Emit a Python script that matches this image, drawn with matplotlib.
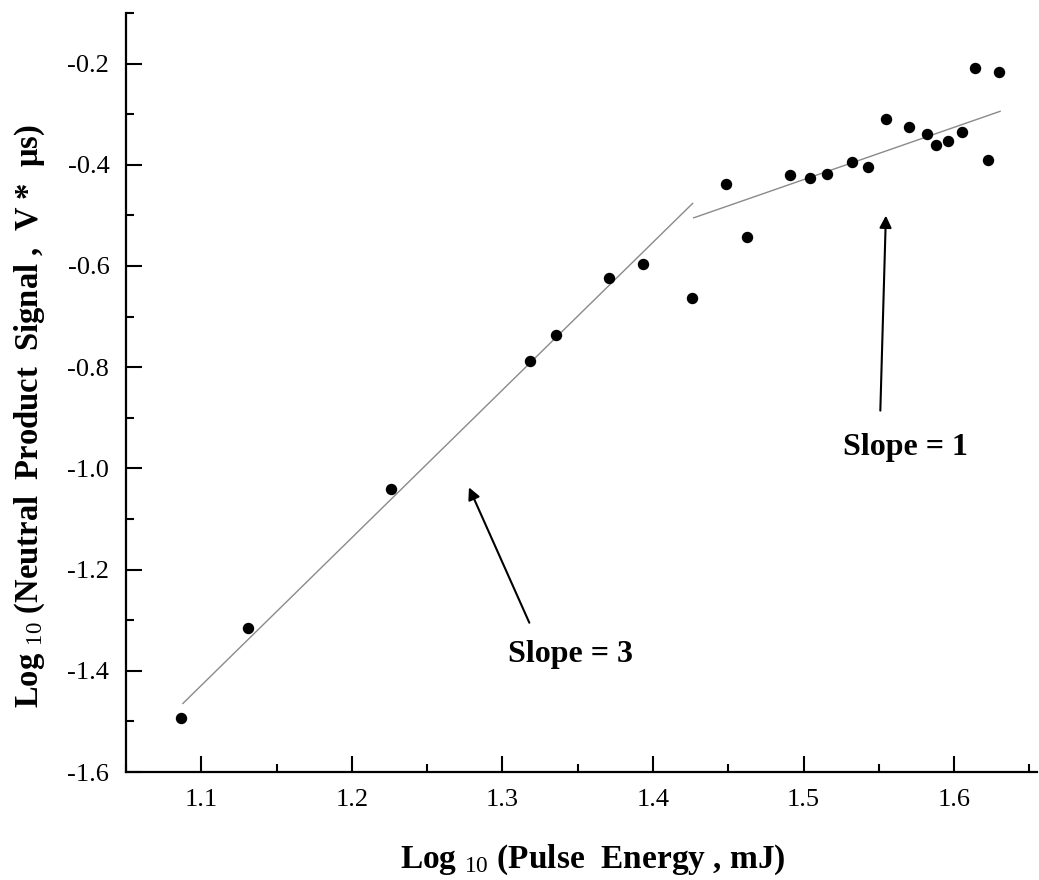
import matplotlib
matplotlib.use("Agg")
import matplotlib.pyplot as plt
from matplotlib.ticker import MultipleLocator, FormatStrFormatter

plt.rcParams['font.family'] = ['Liberation Serif', 'DejaVu Serif']
plt.rcParams['mathtext.fontset'] = 'custom'
plt.rcParams['mathtext.rm'] = 'Liberation Serif'
plt.rcParams['mathtext.it'] = 'Liberation Serif'
plt.rcParams['mathtext.bf'] = 'Liberation Serif:bold'
plt.rcParams['axes.unicode_minus'] = False

# Data (log10 pulse energy, log10 neutral product signal)
log_energy = [1.0867, 1.1312, 1.2263, 1.3181, 1.3358, 1.3710, 1.3931, 1.4261,
              1.4485, 1.4624, 1.4907, 1.5040, 1.5157, 1.5321, 1.5427, 1.5547,
              1.5699, 1.5821, 1.5881, 1.5958, 1.6055, 1.6139, 1.6224, 1.6299]
log_signal = [-1.494, -1.316, -1.040, -0.787, -0.737, -0.624, -0.596, -0.664,
              -0.437, -0.543, -0.421, -0.427, -0.419, -0.395, -0.405, -0.310,
              -0.325, -0.340, -0.361, -0.352, -0.335, -0.209, -0.390, -0.217]

# Fit lines (endpoints)
fit3_x = [1.0878, 1.4263]
fit3_y = [-1.4645, -0.4763]
fit1_x = [1.427, 1.6305]
fit1_y = [-0.5048, -0.2943]

fig = plt.figure(figsize=(10.39, 8.80), dpi=100)
ax = fig.add_axes([126/1039, (880-772)/880, (1037-126)/1039, (772-13)/880])

ax.plot(fit3_x, fit3_y, color='#8a8a8a', lw=1.0)
ax.plot(fit1_x, fit1_y, color='#8a8a8a', lw=1.0)
ax.plot(log_energy, log_signal, 'o', color='black', ms=7.2, mec='black')

ax.set_xlim(1.05, 1.655)
ax.set_ylim(-1.6, -0.1)

ax.xaxis.set_major_locator(MultipleLocator(0.1))
ax.xaxis.set_minor_locator(MultipleLocator(0.05))
ax.yaxis.set_major_locator(MultipleLocator(0.2))
ax.yaxis.set_minor_locator(MultipleLocator(0.1))
ax.xaxis.set_major_formatter(FormatStrFormatter('%.1f'))
ax.yaxis.set_major_formatter(FormatStrFormatter('%.1f'))

for s in ['top', 'right']:
    ax.spines[s].set_visible(False)
for s in ['left', 'bottom']:
    ax.spines[s].set_linewidth(1.6)

ax.tick_params(which='major', direction='in', length=11.5, width=1.5, labelsize=19, pad=12)
ax.tick_params(which='minor', direction='in', length=5.8, width=1.5)

ax.set_xlabel(r"Log $_{\mathrm{10}}$ (Pulse  Energy , mJ)", fontsize=24, fontweight='bold')
ax.set_ylabel(r"Log $_{\mathrm{10}}$ (Neutral  Product  Signal ,  V *  μs)", fontsize=23.5, fontweight='bold')
ax.xaxis.set_label_coords(0.512, -0.093)
ax.yaxis.set_label_coords(-0.087, 0.469)

ax.annotate("", xy=(1.277, -1.0325), xytext=(1.3186, -1.310),
            arrowprops=dict(arrowstyle='-|>', color='black', lw=1.5, mutation_scale=18))
ax.text(1.3451, -1.367, "Slope = 3", fontsize=23, fontweight='bold', ha='center', va='center')

ax.annotate("", xy=(1.5547, -0.4949), xytext=(1.5509, -0.8913),
            arrowprops=dict(arrowstyle='-|>', color='black', lw=1.5, mutation_scale=18))
ax.text(1.5675, -0.9584, "Slope = 1", fontsize=23, fontweight='bold', ha='center', va='center')

fig.savefig("out.png", dpi=100)
